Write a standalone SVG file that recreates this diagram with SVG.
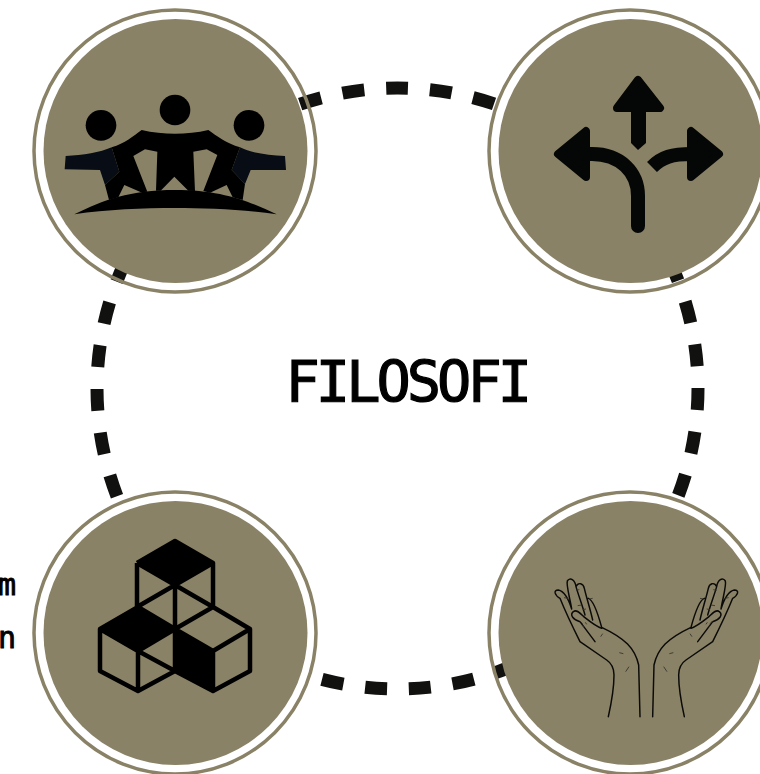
<svg xmlns="http://www.w3.org/2000/svg" xmlns:xlink="http://www.w3.org/1999/xlink" width="760" height="774" viewBox="0 0 760 774">
<style>
.ring{fill:none;stroke:#8a8266;stroke-width:3.5}
.disc{fill:#8a8266}
.k{fill:#000}
.nv{fill:#070c15}
.ln{fill:none;stroke:#000;stroke-width:4.5;stroke-linejoin:round}
.hand{fill:none;stroke:#0a0a08;stroke-width:4.4;stroke-linecap:round;stroke-linejoin:round}
.thin{fill:none;stroke:#33322a;stroke-width:2.6}
.label{font-family:"DejaVu Sans Mono",monospace;fill:#000;stroke:#000}
</style>
<defs>
<g id="hand">
<path class="hand" d="M205 455C215 410 222 370 222 330C222 310 215 295 200 285L120 230C100 190 70 125 60 100C45 92 38 75 55 75C70 78 85 100 95 132M95 132C90 100 78 60 82 48C90 35 105 45 108 65C115 50 130 55 133 70C140 100 150 130 158 165M108 65C115 90 125 115 135 150M145 100C160 105 175 150 185 187M300 455L296 300C285 250 255 220 185 187M165 230L120 170C100 165 88 150 100 140C110 130 125 150 135 158C150 170 170 185 185 190"/>
<path class="thin" d="M238 263L250 266M267 305L257 320M188 206L182 215M120 168L128 176M125 180L132 186M136 172L140 178M72 98L84 100M108 76L118 74M113 122L125 120M128 134L138 132M148 102L158 100"/>
</g>
</defs>
<rect width="760" height="774" fill="#fff"/>
<g id="connectors">
<circle cx="397.5" cy="388.5" r="300.5" fill="none" stroke="#11110f" stroke-width="13" pathLength="86" stroke-dasharray="1 1" stroke-dashoffset="0.02"/>
</g>
<g id="node-people">
<circle class="ring" cx="175" cy="151" r="141"/><circle class="disc" cx="175.5" cy="151" r="132"/>
<g transform="translate(30 60) scale(.33333)">
<circle class="k" cx="213" cy="196" r="46"/><circle class="k" cx="435" cy="150" r="46"/><circle class="k" cx="657" cy="196" r="46"/>
<path class="nv" d="M107 288C160 285 210 278 245 262L268 335L225 375L210 330L104 328Z"/>
<path class="nv" d="M765 288C710 285 660 278 630 262L605 330L645 372L662 330L768 330Z"/>
<path class="k" d="M245 262C285 250 310 228 335 210C400 225 470 225 535 210C560 228 590 250 630 262L605 330L645 372L638 420L608 412L590 375L540 398L520 393L562 285L530 268L490 275L495 393L475 392L433 350L392 392L378 392L382 275L345 268L310 288L352 395L333 397L283 375L265 412L237 420L225 375L268 335Z"/>
<path class="k" d="M133 463C220 420 300 390 435 390C570 390 650 420 740 463C640 448 530 444 435 444C340 444 230 448 133 463Z"/>
</g>
</g>
<g id="node-arrows">
<circle class="ring" cx="630" cy="151" r="141"/><circle class="disc" cx="630.5" cy="151" r="132"/>
<g fill="#050706" stroke="#050706" stroke-linejoin="round">
<path stroke-width="8" d="M638 80L660 108H617Z"/>
<path stroke="none" d="M631 110H646V143L638 150L631 143Z"/>
<path stroke-width="8" d="M558 154L586 131V177Z"/>
<path stroke-width="8" d="M719 154L691 131V177Z"/>
</g>
<path d="M585 154H592C620 154 638 172 638 196V226" fill="none" stroke="#050706" stroke-width="14" stroke-linecap="round"/>
<path d="M652 167C662 157 672 154 692 154" fill="none" stroke="#050706" stroke-width="14"/>
</g>
<g id="node-cubes">
<circle class="ring" cx="175" cy="633" r="141" style="fill:#fff"/><circle class="disc" cx="175.5" cy="633" r="132"/>
<path class="k" d="M137 563L175 541L213 563L175 585Z"/>
<path class="k" d="M100 629L138 607L175 629L138 651Z"/>
<path class="k" d="M175 629L213 651V691L175 671Z"/>
<path class="ln" d="M137 563L175 541L213 563V607M137 563V607M137 563L175 585L213 563M175 585V627M137 607L175 585L213 607M100 629L138 607L175 629L213 607L250 629V671L213 691L175 671L138 691L100 671ZM100 629L138 651L175 629M138 651V691M138 651L175 671M175 629L213 651L250 629M213 651V691M175 629V671"/>
</g>
<g id="node-hands">
<circle class="ring" cx="630" cy="633" r="141"/><circle class="disc" cx="630.5" cy="633" r="132"/>
<g transform="translate(540 565) scale(.33333)">
<use href="#hand" xlink:href="#hand"/>
<use href="#hand" xlink:href="#hand" transform="translate(638 0) scale(-1 1)"/>
</g>
</g>
<g id="title"><text class="label" x="285.5" y="402" font-size="57" letter-spacing="-4" stroke-width="1.2">FILOSOFI</text></g>
<g id="labels"><text class="label" font-size="30" stroke-width=".9" x="-2" y="595">m</text><text class="label" font-size="30" stroke-width=".9" x="-2" y="648">n</text></g>
</svg>
